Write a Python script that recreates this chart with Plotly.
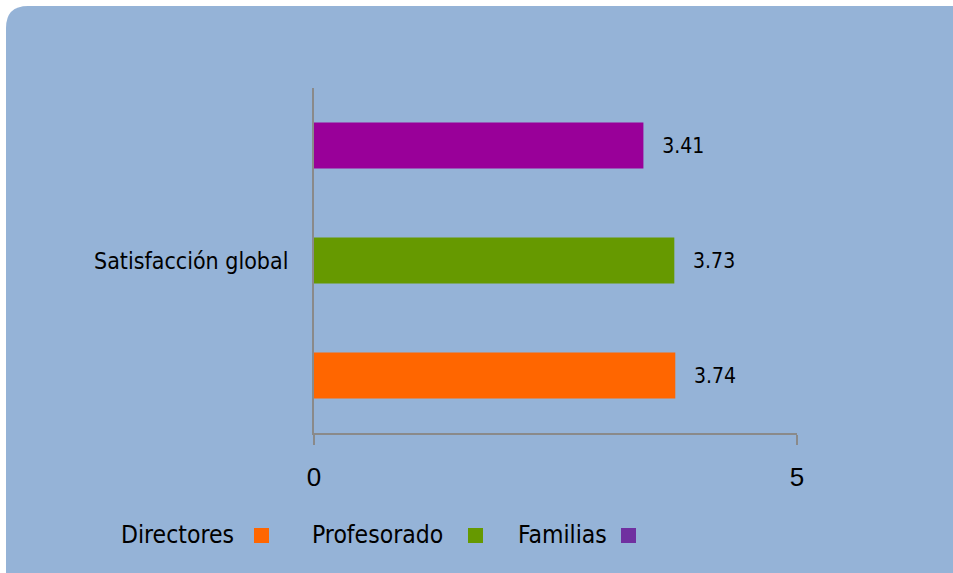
import plotly.graph_objects as go

category = ["Satisfacción global"]
groups = ["Directores", "Profesorado", "Familias"]
values = [3.74, 3.73, 3.41]
bar_colors = ["#FF6600", "#669900", "#990099"]
legend_colors = ["#FF6600", "#669900", "#7030A0"]
x_ticks = [0, 5]

FW, FH = 953, 573
# plot area in pixels
L, R, T, B = 314, 797, 88, 433
W, H = R - L, B - T


def px_x(px):
    return (px - L) / W


def px_y(py):
    return (B - py) / H


fig = go.Figure()

for name, val, col in zip(groups, values, bar_colors):
    fig.add_trace(go.Bar(
        y=category, x=[val], name=name, orientation="h",
        marker=dict(color=col, line=dict(width=0)),
        texttemplate="\u00a0\u00a0\u2009%{x:.2f}",
        textposition="outside", cliponaxis=False,
        textfont=dict(family="DejaVu Sans Condensed", size=21, color="#000000"),
        showlegend=False,
    ))

# rounded blue background panel (from 6px in, runs off right/bottom edge)
r = 22
left, top, right, bottom = 6 - L, T - 6, FW - L + 25, -(FH - T) - 25
path = (f"M {left + r} {top} L {right - r} {top} Q {right} {top} {right} {top - r} "
        f"L {right} {bottom + r} Q {right} {bottom} {right - r} {bottom} "
        f"L {left + r} {bottom} Q {left} {bottom} {left} {bottom + r} "
        f"L {left} {top - r} Q {left} {top} {left + r} {top} Z")
fig.add_shape(
    type="path", xref="paper", yref="paper",
    xsizemode="pixel", ysizemode="pixel", xanchor=0, yanchor=1,
    path=path, fillcolor="#95B3D7", line=dict(width=0), layer="below",
)

# custom legend: label followed by colour square
legend_text_x = [119, 310, 516]
legend_sq_x = [254, 468, 621]
for name, col, tx, sx in zip(groups, legend_colors, legend_text_x, legend_sq_x):
    fig.add_annotation(
        x=px_x(tx), y=px_y(534), xref="paper", yref="paper",
        text=name, showarrow=False, xanchor="left", yanchor="middle",
        font=dict(family="DejaVu Sans Condensed", size=24.5, color="#000000"),
    )
    fig.add_shape(
        type="rect", xref="paper", yref="paper",
        x0=px_x(sx), x1=px_x(sx + 15), y0=px_y(543), y1=px_y(528),
        fillcolor=col, line=dict(width=0),
    )

fig.update_layout(
    width=FW, height=FH,
    margin=dict(l=L, r=FW - R, t=T, b=FH - B),
    paper_bgcolor="#FFFFFF", plot_bgcolor="rgba(0,0,0,0)",
    barmode="group", bargap=0, bargroupgap=0.6,
    showlegend=False,
    xaxis=dict(
        range=[0, 5], tickvals=x_ticks, showgrid=False, zeroline=False,
        showline=True, linecolor="#8A8A8A", linewidth=2,
        ticks="outside", ticklen=10, tickcolor="#8A8A8A", tickwidth=2,
        ticklabelstandoff=10,
        tickfont=dict(family="Liberation Sans", size=26, color="#000000"),
    ),
    yaxis=dict(
        showgrid=False, zeroline=False, showline=True,
        linecolor="#8A8A8A", linewidth=2, ticks="", ticklabelstandoff=19,
        tickfont=dict(family="DejaVu Sans Condensed", size=23, color="#000000"),
    ),
)

fig.write_html("out.html",
               config={"displayModeBar": False},
               post_script="document.body.style.margin='0';"
                           "document.body.style.overflow='hidden';")
